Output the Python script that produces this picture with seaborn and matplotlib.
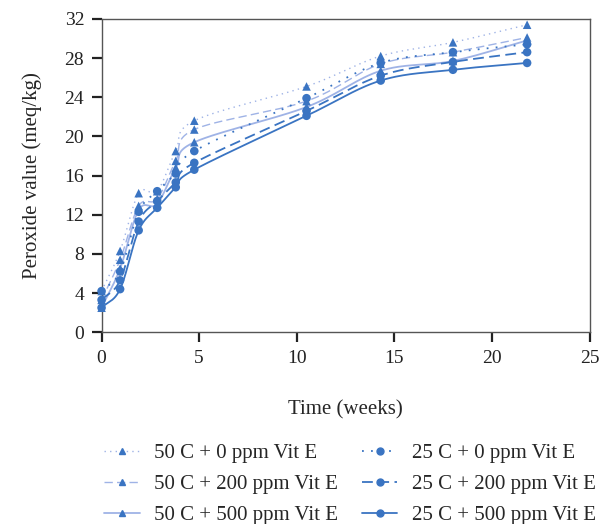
import numpy as np
import pandas as pd
import matplotlib
matplotlib.use("Agg")
import matplotlib.pyplot as plt
import seaborn as sns

sns.set_style("white")
plt.rcParams['font.family'] = ['Liberation Serif', 'DejaVu Serif']

# ===== DATA =====
weeks = [0, 0.95, 1.9, 2.85, 3.8, 4.75, 10.5, 14.3, 18.0, 21.8]

pv_50c_0 = [4.2, 8.3, 14.2, 14.4, 18.5, 21.6, 25.1, 28.2, 29.6, 31.4]
pv_50c_200 = [3.3, 7.4, 12.9, 13.6, 17.5, 20.7, 23.6, 27.4, 28.6, 30.1]
pv_50c_500 = [2.5, 6.5, 12.5, 13.1, 16.8, 19.4, 23.0, 26.7, 27.7, 29.8]
pv_25c_0 = [4.2, 6.2, 12.3, 14.4, 16.2, 18.5, 23.9, 27.5, 28.6, 29.4]
pv_25c_200 = [3.3, 5.3, 11.3, 13.4, 15.3, 17.3, 22.6, 26.2, 27.6, 28.6]
pv_25c_500 = [2.5, 4.4, 10.4, 12.7, 14.8, 16.6, 22.1, 25.7, 26.8, 27.5]

labels = ['50 C + 0 ppm Vit E', '50 C + 200 ppm Vit E', '50 C + 500 ppm Vit E',
          '25 C + 0 ppm Vit E', '25 C + 200 ppm Vit E', '25 C + 500 ppm Vit E']
series = [pv_50c_0, pv_50c_200, pv_50c_500, pv_25c_0, pv_25c_200, pv_25c_500]

LIGHT = '#9fb3e6'
DARK = '#3a74c2'
styles = [
    dict(color=LIGHT, ls=(0, (1, 3)), lw=1.0, marker='^'),
    dict(color=LIGHT, ls=(0, (6, 3)), lw=1.0, marker='^'),
    dict(color=LIGHT, ls='-', lw=1.3, marker='^'),
    dict(color=DARK, ls=(0, (1, 4)), lw=1.3, marker='o'),
    dict(color=DARK, ls=(0, (6, 3)), lw=1.3, marker='o'),
    dict(color=DARK, ls='-', lw=1.3, marker='o'),
]


def smooth(x, y, n=30):
    # Catmull-Rom curve through the points (like "smoothed line" in a spreadsheet)
    x = np.asarray(x, float)
    y = np.asarray(y, float)
    px = np.concatenate([[2 * x[0] - x[1]], x, [2 * x[-1] - x[-2]]])
    py = np.concatenate([[2 * y[0] - y[1]], y, [2 * y[-1] - y[-2]]])
    xs, ys = [], []
    t = np.linspace(0, 1, n)
    for i in range(1, len(px) - 2):
        for p, out in ((px, xs), (py, ys)):
            p0, p1, p2, p3 = p[i - 1], p[i], p[i + 1], p[i + 2]
            m1 = (p2 - p0) / 6.0
            m2 = (p3 - p1) / 6.0
            c = ((1 - t) ** 3 * p1 + 3 * (1 - t) ** 2 * t * (p1 + m1)
                 + 3 * (1 - t) * t ** 2 * (p2 - m2) + t ** 3 * p2)
            out.extend(c)
    return np.array(xs), np.array(ys)


fig = plt.figure(figsize=(6.01, 5.24), dpi=100)
ax = fig.add_axes([0.169, 0.366, 0.812, 0.598])

handles = []
for lab, vals, st in zip(labels, series, styles):
    sx, sy = smooth(weeks, vals)
    curve = pd.DataFrame({'x': sx, 'y': sy})
    sns.lineplot(data=curve, x='x', y='y', ax=ax, sort=False, estimator=None,
                 color=st['color'], linestyle=st['ls'], linewidth=st['lw'])
    pts = pd.DataFrame({'x': weeks, 'y': vals})
    sns.scatterplot(data=pts, x='x', y='y', ax=ax, marker=st['marker'],
                    color=DARK, s=38, edgecolor='none', zorder=3, clip_on=False)
    h, = ax.plot([], [], color=st['color'], linestyle=st['ls'], linewidth=st['lw'],
                 marker=st['marker'], markersize=5, markerfacecolor=DARK,
                 markeredgecolor=DARK)
    handles.append(h)

ax.set_xlim(0, 25)
ax.set_ylim(0, 32)
ax.set_xticks(range(0, 26, 5))
ax.set_yticks(range(0, 33, 4))
ax.tick_params(direction='out', length=7.5, width=1.6, labelsize=14, colors='#222222',
               bottom=True, left=True, pad=5)
for s in ax.spines.values():
    s.set_color('#555555')
    s.set_linewidth(1.0)
ax.set_xlabel('Time (weeks)', fontsize=15, labelpad=24)
ax.set_ylabel('Peroxide value (meq/kg)', fontsize=15, labelpad=16)

fig.legend(handles=handles, labels=labels, loc='upper left', bbox_to_anchor=(0.16, 0.17),
           ncol=2, frameon=False, fontsize=15, handlelength=1.7, columnspacing=1.12,
           labelspacing=0.55, handletextpad=0.7, borderaxespad=0)

plt.savefig('out.png', dpi=100)
